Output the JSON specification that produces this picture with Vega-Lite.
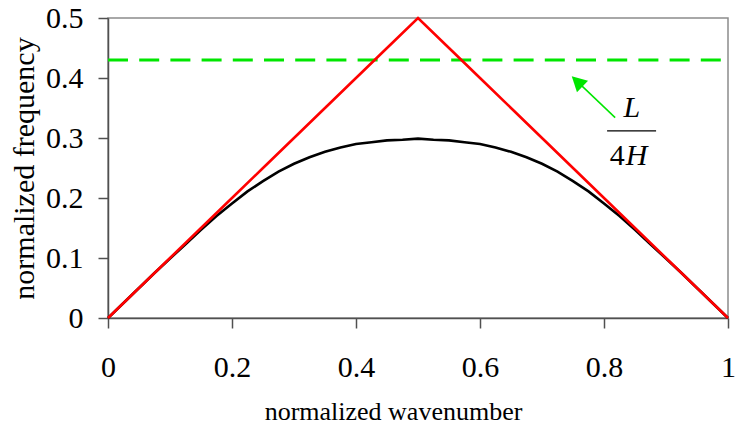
{
  "$schema": "https://vega.github.io/schema/vega-lite/v6.json",
  "width": 620,
  "height": 300,
  "autosize": {"type": "none"},
  "padding": {"left": 108, "top": 18, "right": 8, "bottom": 109},
  "background": "white",
  "config": {
    "view": {"stroke": "#8c8c8c", "strokeWidth": 1.5},
    "font": "Liberation Serif",
    "axis": {
      "grid": false,
      "domainColor": "#505050",
      "domainWidth": 1.5,
      "tickColor": "#505050",
      "tickWidth": 1.5,
      "tickSize": 10,
      "labelFlush": false,
      "labelOverlap": false,
      "labelFont": "Liberation Serif",
      "titleFont": "Liberation Serif",
      "labelColor": "#000",
      "titleColor": "#000",
      "titleFontWeight": "normal"
    }
  },
  "datasets": {
    "black": [
      {"x": 0, "y": 0}, {"x": 0.025, "y": 0.025}, {"x": 0.05, "y": 0.05}, {"x": 0.075, "y": 0.075},
      {"x": 0.1, "y": 0.099}, {"x": 0.125, "y": 0.123}, {"x": 0.15, "y": 0.147}, {"x": 0.175, "y": 0.17},
      {"x": 0.2, "y": 0.191}, {"x": 0.225, "y": 0.211}, {"x": 0.25, "y": 0.228}, {"x": 0.275, "y": 0.244},
      {"x": 0.3, "y": 0.257}, {"x": 0.325, "y": 0.268}, {"x": 0.35, "y": 0.277}, {"x": 0.375, "y": 0.284},
      {"x": 0.4, "y": 0.29}, {"x": 0.425, "y": 0.293}, {"x": 0.45, "y": 0.296}, {"x": 0.475, "y": 0.297},
      {"x": 0.5, "y": 0.299}, {"x": 0.525, "y": 0.297}, {"x": 0.55, "y": 0.296}, {"x": 0.575, "y": 0.293},
      {"x": 0.6, "y": 0.29}, {"x": 0.625, "y": 0.284}, {"x": 0.65, "y": 0.277}, {"x": 0.675, "y": 0.268},
      {"x": 0.7, "y": 0.257}, {"x": 0.725, "y": 0.244}, {"x": 0.75, "y": 0.228}, {"x": 0.775, "y": 0.211},
      {"x": 0.8, "y": 0.191}, {"x": 0.825, "y": 0.17}, {"x": 0.85, "y": 0.147}, {"x": 0.875, "y": 0.123},
      {"x": 0.9, "y": 0.099}, {"x": 0.925, "y": 0.075}, {"x": 0.95, "y": 0.05}, {"x": 0.975, "y": 0.025},
      {"x": 1, "y": 0}
    ],
    "red": [
      {"x": 0, "y": 0}, {"x": 0.05, "y": 0.05}, {"x": 0.1, "y": 0.1}, {"x": 0.15, "y": 0.15},
      {"x": 0.2, "y": 0.2}, {"x": 0.25, "y": 0.25}, {"x": 0.3, "y": 0.3}, {"x": 0.35, "y": 0.35},
      {"x": 0.4, "y": 0.4}, {"x": 0.45, "y": 0.45}, {"x": 0.5, "y": 0.5}, {"x": 0.55, "y": 0.45},
      {"x": 0.6, "y": 0.4}, {"x": 0.65, "y": 0.35}, {"x": 0.7, "y": 0.3}, {"x": 0.75, "y": 0.25},
      {"x": 0.8, "y": 0.2}, {"x": 0.85, "y": 0.15}, {"x": 0.9, "y": 0.1}, {"x": 0.95, "y": 0.05},
      {"x": 1, "y": 0}
    ],
    "level": [{"x": 0, "x2": 1, "y": 0.43}],
    "arrow": [{"x": 0.818, "y": 0.334, "x2": 0.752, "y2": 0.399}],
    "arrowhead": [{"x": 0.748, "y": 0.403}],
    "bar": [{"x": 0.805, "x2": 0.884, "y": 0.312}],
    "numer": [{"x": 0.845, "y": 0.335, "t": "L"}],
    "denom4": [{"x": 0.8335, "y": 0.255, "t": "4"}],
    "denomH": [{"x": 0.8335, "y": 0.255, "t": "H"}]
  },
  "layer": [
    {
      "data": {"name": "level"},
      "mark": {"type": "rule", "color": "#00e600", "strokeWidth": 3, "strokeDash": [20, 11.2]},
      "encoding": {
        "x": {"field": "x", "type": "quantitative", "scale": {"domain": [0, 1], "nice": false},
          "axis": {"values": [0, 0.2, 0.4, 0.6, 0.8, 1], "format": "~g", "labelFontSize": 30,
            "labelBaseline": "alphabetic", "labelPadding": 48, "title": "normalized wavenumber",
            "titleFontSize": 26, "titleX": 285, "titleY": 101, "titleBaseline": "alphabetic", "titleAnchor": null, "titleAlign": "center"}},
        "x2": {"field": "x2"},
        "y": {"field": "y", "type": "quantitative", "scale": {"domain": [0, 0.5], "nice": false},
          "axis": {"values": [0, 0.1, 0.2, 0.3, 0.4, 0.5], "format": "~g", "labelFontSize": 30,
            "labelPadding": 15, "title": "normalized frequency", "titleFontSize": 30,
            "titleX": -75, "titleY": 150, "titleAngle": -90, "titleBaseline": "alphabetic", "titleAlign": "center", "titleAnchor": null}}
      }
    },
    {
      "data": {"name": "black"},
      "mark": {"type": "line", "color": "#000000", "strokeWidth": 2.6},
      "encoding": {
        "x": {"field": "x", "type": "quantitative"},
        "y": {"field": "y", "type": "quantitative"}
      }
    },
    {
      "data": {"name": "red"},
      "mark": {"type": "line", "color": "#ff0000", "strokeWidth": 2.6},
      "encoding": {
        "x": {"field": "x", "type": "quantitative"},
        "y": {"field": "y", "type": "quantitative"}
      }
    },
    {
      "data": {"name": "arrow"},
      "mark": {"type": "rule", "color": "#00e600", "strokeWidth": 1.5},
      "encoding": {
        "x": {"field": "x", "type": "quantitative"},
        "y": {"field": "y", "type": "quantitative"},
        "x2": {"field": "x2"},
        "y2": {"field": "y2"}
      }
    },
    {
      "data": {"name": "arrowhead"},
      "mark": {"type": "point", "shape": "M0,0L-0.54,1L0.54,1Z", "filled": true, "color": "#00e600", "opacity": 1, "size": 880, "angle": 313.6, "strokeWidth": 0},
      "encoding": {
        "x": {"field": "x", "type": "quantitative"},
        "y": {"field": "y", "type": "quantitative"}
      }
    },
    {
      "data": {"name": "bar"},
      "mark": {"type": "rule", "color": "#000000", "strokeWidth": 1.2},
      "encoding": {
        "x": {"field": "x", "type": "quantitative"},
        "x2": {"field": "x2"},
        "y": {"field": "y", "type": "quantitative"}
      }
    },
    {
      "data": {"name": "numer"},
      "mark": {"type": "text", "font": "Liberation Serif", "fontStyle": "italic", "fontSize": 30, "align": "center", "baseline": "alphabetic", "color": "#000"},
      "encoding": {
        "x": {"field": "x", "type": "quantitative"},
        "y": {"field": "y", "type": "quantitative"},
        "text": {"field": "t"}
      }
    },
    {
      "data": {"name": "denom4"},
      "mark": {"type": "text", "font": "Liberation Serif", "fontSize": 30, "align": "right", "baseline": "alphabetic", "color": "#000"},
      "encoding": {
        "x": {"field": "x", "type": "quantitative"},
        "y": {"field": "y", "type": "quantitative"},
        "text": {"field": "t"}
      }
    },
    {
      "data": {"name": "denomH"},
      "mark": {"type": "text", "font": "Liberation Serif", "fontStyle": "italic", "fontSize": 30, "align": "left", "baseline": "alphabetic", "color": "#000", "dx": 1},
      "encoding": {
        "x": {"field": "x", "type": "quantitative"},
        "y": {"field": "y", "type": "quantitative"},
        "text": {"field": "t"}
      }
    }
  ]
}
